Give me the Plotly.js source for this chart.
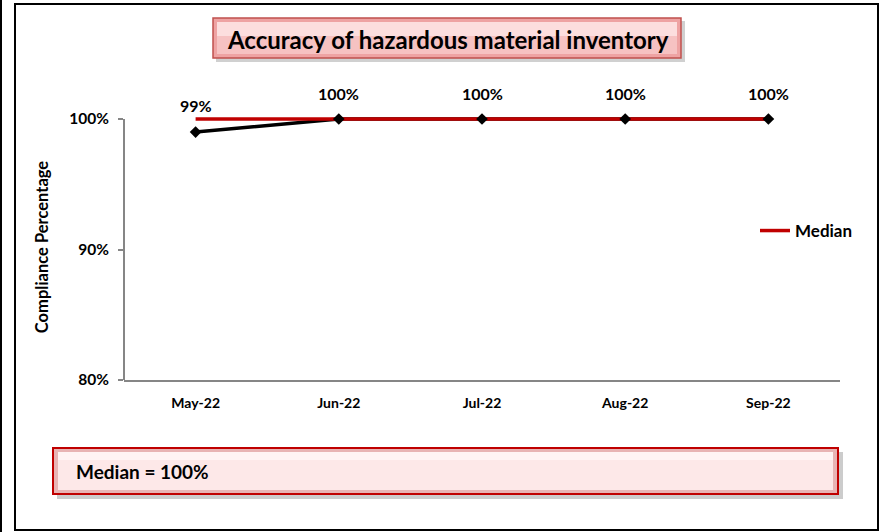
<!DOCTYPE html>
<html>
<head>
<meta charset="utf-8">
<script src="https://cdn.plot.ly/plotly-3.0.1.min.js"></script>
<style>
  html, body { margin: 0; padding: 0; background: #ffffff; }
  #chart { width: 883px; height: 532px; }
</style>
</head>
<body>
<div id="chart"></div>
<script>
// ---- Data ----
const months = ["May-22", "Jun-22", "Jul-22", "Aug-22", "Sep-22"];
const compliance = [0.99, 1.00, 1.00, 1.00, 1.00];
const complianceLabels = ["99%", "100%", "100%", "100%", "100%"];
const medianValues = [1.00, 1.00, 1.00, 1.00, 1.00];
const chartTitle = "Accuracy of hazardous material inventory";
const yAxisTitle = "Compliance Percentage";
const medianNote = "Median = 100%";
const yTicks = [0.8, 0.9, 1.0];

// ---- Layout helpers (pixel -> paper) ----
const W = 883, H = 532;
const HEAD = 5; // px of headroom above 100% so thick lines are not clipped
const M = { l: 124, r: 43, t: 119 - HEAD, b: 152 };
const PW = W - M.l - M.r, PH = H - M.t - M.b;
const px = v => (v - M.l) / PW;
const py = v => (H - M.b - v) / PH;
const yMin = 0.8, yMax = 1.0;
const yTop = yMax + (yMax - yMin) * HEAD / (PH - HEAD);

const FONT = "Lato, 'Open Sans', sans-serif";

const traces = [
  {
    x: months, y: compliance, type: "scatter", mode: "lines",
    name: "Compliance", showlegend: false,
    line: { color: "#000000", width: 3.5 },
    hoverinfo: "skip", cliponaxis: false
  },
  {
    x: months, y: medianValues, type: "scatter", mode: "lines",
    name: "Median", line: { color: "#C00000", width: 3.5 },
    hoverinfo: "skip", cliponaxis: false
  },
  {
    x: months, y: compliance, type: "scatter", mode: "markers",
    name: "Compliance points", showlegend: false,
    marker: { symbol: "diamond", size: 9, color: "#000000" },
    cliponaxis: false
  }
];

function rect(x0, y0, x1, y1, fill, line, lw, extra) {
  return Object.assign({
    type: "rect", xref: "paper", yref: "paper",
    x0: px(x0), x1: px(x1), y0: py(y0), y1: py(y1),
    fillcolor: fill, line: { color: line || "rgba(0,0,0,0)", width: lw || 0 },
    layer: "above"
  }, extra || {});
}

const shapes = [
  // y axis line (from 80% to 100% only)
  { type: "line", xref: "paper", yref: "y", x0: 0, x1: 0, y0: yMin, y1: yMax,
    line: { color: "#868686", width: 2 }, layer: "above" },
  // outer frame
  rect(0, 0, 2, 532, "#000000", null, 0),
  rect(15, 4, 878, 530, "rgba(0,0,0,0)", "#000000", 2),
  // title box: shadow, body, gradient layers
  rect(216, 21, 685, 62, "rgba(120,120,120,0.35)", null, 0),
  rect(213, 18, 681, 58, "#eea3a3", "#c0504d", 1.5),
  rect(217, 22, 677, 54, "#f6c2c2", null, 0),
  rect(217, 22, 677, 36, "#fcdede", null, 0),
  // median box: shadow, body, inner
  rect(57, 452, 843, 499, "rgba(110,110,110,0.35)", null, 0),
  rect(53, 448, 838, 494, "#e8b4b4", "#c00000", 2),
  rect(58, 452, 833, 490, "#fde8e8", null, 0),
  rect(58, 452, 833, 460, "#fff4f4", null, 0)
];

const annotations = [
  {
    xref: "paper", yref: "paper", x: px(448), y: py(40),
    text: "<b>" + chartTitle + "</b>", showarrow: false,
    font: { family: FONT, size: 24, color: "#000000" },
    xanchor: "center", yanchor: "middle"
  },
  {
    xref: "paper", yref: "paper", x: px(74), y: py(471),
    text: "<b>" + medianNote + "</b>", showarrow: false,
    font: { family: FONT, size: 19, color: "#000000" },
    xanchor: "left", yanchor: "middle"
  }
];
months.forEach((m, i) => {
  annotations.push({
    x: m, y: compliance[i], xref: "x", yref: "y",
    text: "<b>" + complianceLabels[i] + "</b>", showarrow: false,
    yshift: i === 0 ? 27 : 26,
    font: { family: FONT, size: 16, color: "#000000" },
    xanchor: "center", yanchor: "middle"
  });
});

const layout = {
  width: W, height: H,
  margin: M,
  paper_bgcolor: "#ffffff", plot_bgcolor: "#ffffff",
  font: { family: FONT, color: "#000000" },
  showlegend: true,
  legend: {
    x: px(755), y: py(231), xanchor: "left", yanchor: "middle",
    font: { family: FONT, size: 17, color: "#000000", weight: "bold" },
    bgcolor: "rgba(0,0,0,0)", borderwidth: 0
  },
  xaxis: {
    type: "category", range: [-0.5, 4.5],
    showline: true, linecolor: "#868686", linewidth: 2,
    showgrid: false, zeroline: false, ticks: "",
    tickfont: { family: FONT, size: 14, color: "#000000", weight: "bold" },
    ticklabelstandoff: 9, fixedrange: true
  },
  yaxis: {
    range: [yMin, yTop], tickvals: yTicks, tickformat: ".0%",
    showline: false,
    ticks: "outside", ticklen: 5, tickcolor: "#868686", tickwidth: 2,
    showgrid: false, zeroline: false,
    tickfont: { family: FONT, size: 15.5, color: "#000000", weight: "bold" },
    ticklabelstandoff: 6,
    title: { text: "<b>" + yAxisTitle + "</b>", font: { family: FONT, size: 16.5, color: "#000000" }, standoff: 16 },
    fixedrange: true
  },
  shapes: shapes,
  annotations: annotations
};

Plotly.newPlot("chart", traces, layout, { displayModeBar: false, staticPlot: true });
</script>
</body>
</html>
